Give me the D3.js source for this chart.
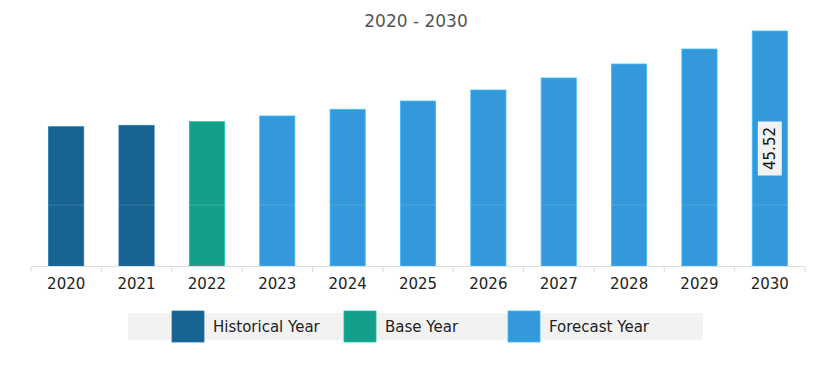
<!DOCTYPE html>
<html>
<head>
<meta charset="utf-8">
<script src="https://cdn.jsdelivr.net/npm/d3@7"></script>
<style>
  body { margin: 0; background: #fff; }
  text { font-family: "DejaVu Sans", Verdana, sans-serif; }
</style>
</head>
<body>
<script>
// Jahre und Werte (aus dem Bild geschätzt)
const years = ["2020", "2021", "2022", "2023", "2024", "2025", "2026", "2027", "2028", "2029", "2030"];
const values = [26.98, 27.25, 27.95, 29.06, 30.35, 31.96, 34.09, 36.42, 39.13, 42.03, 45.52];
const yearTypes = ["Historical Year", "Historical Year", "Base Year", "Forecast Year", "Forecast Year",
    "Forecast Year", "Forecast Year", "Forecast Year", "Forecast Year", "Forecast Year", "Forecast Year"];
const legendNames = ["Historical Year", "Base Year", "Forecast Year"];
const legendColors = ["#176392", "#139f8a", "#3499db"];
const labelIndex = 10;

const width = 821, height = 372;
const margin = {top: 31, right: 16, bottom: 106, left: 31};

const svg = d3.select("body").append("svg")
    .attr("width", width)
    .attr("height", height);

// Skalen
const x = d3.scaleBand()
    .domain(years)
    .range([margin.left, width - margin.right])
    .paddingInner(0.5)
    .paddingOuter(0.25);

const y = d3.scaleLinear()
    .domain([0, d3.max(values)])
    .range([height - margin.bottom, margin.top]);

const color = d3.scaleOrdinal().domain(legendNames).range(legendColors);

// Titel
svg.append("text")
    .attr("x", 416)
    .attr("y", 27)
    .attr("text-anchor", "middle")
    .attr("font-size", 17)
    .attr("fill", "#555")
    .text("2020 - 2030");

// Balken
svg.selectAll("rect.bar")
    .data(years)
    .join("rect")
    .attr("class", "bar")
    .attr("x", d => x(d))
    .attr("y", (d, i) => y(values[i]))
    .attr("width", x.bandwidth())
    .attr("height", (d, i) => y(0) - y(values[i]))
    .attr("fill", (d, i) => color(yearTypes[i]))
    .attr("stroke", (d, i) => d3.color(color(yearTypes[i])).brighter(0.6))
    .attr("stroke-width", 0.8);

// schwache Gitterlinie über den Balken
svg.append("line")
    .attr("x1", margin.left)
    .attr("x2", width - margin.right)
    .attr("y1", y(11.8))
    .attr("y2", y(11.8))
    .attr("stroke", "rgba(255,255,255,0.15)")
    .attr("stroke-width", 1);

// X-Achse
const xAxis = svg.append("g")
    .attr("transform", `translate(0,${y(0)})`)
    .call(d3.axisBottom(x).tickSize(0).tickPadding(12));
xAxis.select(".domain").attr("stroke", "#ddd");
xAxis.selectAll("text")
    .attr("font-size", 15)
    .attr("fill", "#222")
    .style("font-family", "'DejaVu Sans', Verdana, sans-serif");

// Trennstriche zwischen den Kategorien
const step = x.step();
const bounds = d3.range(years.length + 1).map(i => margin.left + i * step);
svg.selectAll("line.sep")
    .data(bounds)
    .join("line")
    .attr("class", "sep")
    .attr("x1", d => d).attr("x2", d => d)
    .attr("y1", y(0)).attr("y2", y(0) + 6)
    .attr("stroke", "#ddd");

// Wertbeschriftung (gedreht)
const cx = x(years[labelIndex]) + x.bandwidth() / 2;
const cy = (y(values[labelIndex]) + y(0)) / 2;
const lab = svg.append("g").attr("transform", `translate(${cx},${cy}) rotate(-90)`);
lab.append("rect")
    .attr("x", -27).attr("y", -12)
    .attr("width", 54).attr("height", 24)
    .attr("fill", "#f2f2f2");
lab.append("text")
    .attr("text-anchor", "middle")
    .attr("dy", "0.36em")
    .attr("font-size", 15)
    .attr("fill", "#111")
    .text(values[labelIndex].toFixed(2));

// Legende
svg.append("rect")
    .attr("x", 128).attr("y", 313)
    .attr("width", 575).attr("height", 27)
    .attr("fill", "#f2f2f2");

const legendX = [172, 344, 508];
const leg = svg.selectAll("g.leg")
    .data(legendNames)
    .join("g")
    .attr("class", "leg")
    .attr("transform", (d, i) => `translate(${legendX[i]},311)`);
leg.append("rect")
    .attr("width", 32).attr("height", 31)
    .attr("fill", d => color(d))
    .attr("stroke", d => d3.color(color(d)).brighter(0.5))
    .attr("stroke-width", 0.8);
leg.append("text")
    .attr("x", 41)
    .attr("y", 21)
    .attr("font-size", 15)
    .attr("fill", "#222")
    .text(d => d);
</script>
</body>
</html>
